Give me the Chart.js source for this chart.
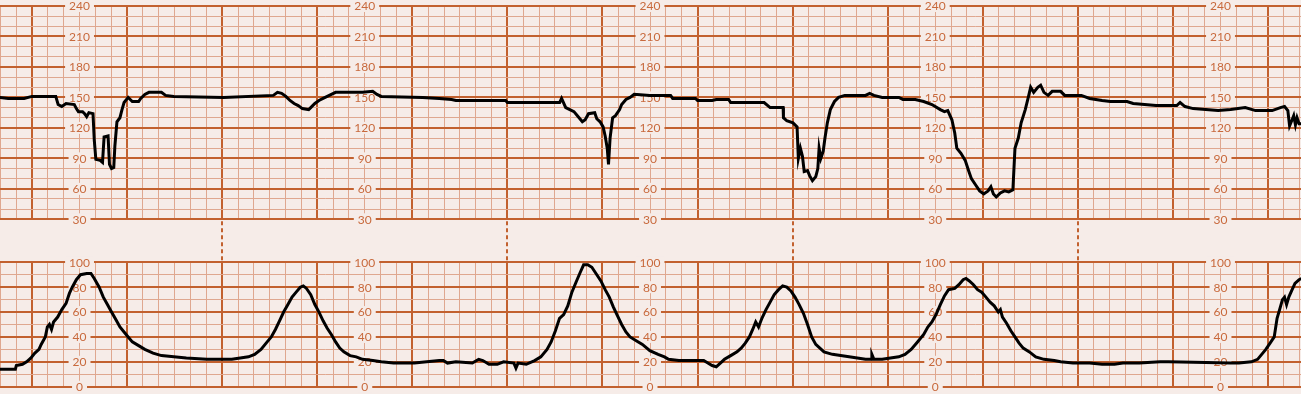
<!DOCTYPE html>
<html>
<head>
<meta charset="utf-8">
<script src="https://cdn.jsdelivr.net/npm/chart.js@4.4.1/dist/chart.umd.min.js"></script>
<style>
  body { margin: 0; background: #f6ece8; }
  #wrap { position: relative; width: 1301px; height: 394px; overflow: hidden; }
  #wrap canvas { position: absolute; left: 0; }
</style>
</head>
<body>
<div id="wrap">
  <canvas id="fhrChart" width="1301" height="262" style="top:0"></canvas>
  <canvas id="tocoChart" width="1301" height="154" style="top:240px"></canvas>
</div>
<script>
// time in seconds, 0 = first heavy grid line
var fhrTimes = [-20.4,-15,-5,0,15,16.5,18.8,21.5,26.7,28,29.3,31.9,33.2,34.5,35.9,38.5,39.3,40.3,43,44.5,45.5,48,48.9,50.2,51.6,52.3,53.6,55.5,56.8,58.1,60.7,62,63.3,67.3,68.6,71.2,73.8,81.7,84.3,89.5,120.9,152.3,154.9,157.5,160.2,162.8,165.4,168,170.6,174.6,175.9,178.5,181.1,183.7,186.3,188.9,191.6,208.6,215,217.7,220.4,246.5,257,264.8,267.5,298.9,300,333,334.2,336.8,339.4,342,344.7,347.3,349.1,351.2,355.1,356.4,358.5,360.4,361.7,363,363.8,364.8,366.4,368.2,370.8,372.1,374.8,377.4,380,389.9,403,404.3,418.7,420,429.2,431.8,439.6,440.9,462,465.8,474,474.2,476.3,480.2,482.8,483.6,484.9,486.2,487.3,489.4,490.7,492.5,494.6,495.9,496.7,497.8,499.3,500.4,501.9,503.8,506.4,509,512.9,526,528.6,531.3,536.5,547,549.6,557.4,562.7,567.9,573.2,575.8,577.9,580.5,582.3,583.6,586.2,588.9,591,592.8,595.4,598,600.6,603.3,605.1,606.7,608.5,611.1,613.7,616.4,619,620.3,622.4,624.2,626.8,628.7,630.2,632.1,634.7,636.5,638.6,641.2,643.8,649.1,651.7,662.2,667.4,675.3,680.5,691,694.9,709.3,722.4,724.5,727.6,732.8,740.7,748.5,756.4,765.6,772.1,782.6,787.8,790.4,792.5,793.6,795.2,796.2,797.3,798.3,799.6,801];
var fhrValues = [150,149,149,151,151,143,141,144,143,139,136,136,134,131,135,134,108,89,88,86,111,112,84,80,81,102,126,130,138,145,150,148,146,146,149,153,155,155,152,151,150,152,155,154,151,147,144,142,139,138,140,144,147,149,151,153,155,155,156,153,151,150,149,148,147,147,145,145,149,140,138,136,131,126,128,134,135,129,126,121,112,100,84,110,130,132,138,143,148,150,153,152,152,149,149,147,147,148,148,145,145,140,140,130,127,125,121,90,100,92,77,78,73,68,72,80,100,90,97,110,125,138,146,150,152,152,154,152,150,150,148,148,146,143,138,136,137,128,115,100,95,88,78,70,64,58,55,58,62,55,52,56,58,57,59,100,110,125,138,150,160,155,160,162,155,152,156,156,152,152,149,147,146,146,144,142,142,145,141,139,138,137,138,140,137,137,140,141,137,122,128,132,123,130,124,124];

var tocoTimes = [-20.4,-10.5,-9.9,-6,-3.4,-0.8,1.8,4.4,5.8,8.4,9.7,11,12.3,13.6,16.2,18.8,21.5,23.6,25.4,28,30.6,34.5,37.2,39.3,42.4,45,47.6,50.2,52.9,55.5,58.1,60.7,63.3,67.3,71.2,76.4,81.7,89.5,97.4,110.4,126.1,131.4,136.6,140.5,144.5,148.4,151,153.6,156.2,158.8,161.5,164.1,166.7,169.3,171.2,173.2,175.9,178.5,181.1,183.7,186.3,188.9,191.6,194.2,196.8,200.7,204.6,208.6,215.1,220.4,228.2,241.3,249.1,257,259.6,262.2,267.5,277.9,281.9,284.5,288.4,293.6,297.6,304.1,305.4,306.7,311.9,317.2,321.1,325,327.6,330.3,332.9,335.5,338.1,340.7,343.3,346,348.1,350.7,353.3,355.9,359,361.7,364.3,366.9,369.5,372.1,374.8,377.4,381.3,385.2,389.9,395.1,399.1,401.7,408.2,418.7,423.9,426.5,429.2,431.8,434.4,437,440.9,444.9,447.5,450.1,452.7,454.8,456.7,458.5,460.6,463.2,465.8,468.4,471.1,473.7,476.3,478.9,481.5,484.1,486.8,489.4,492,494.6,497.2,499.8,505.1,510.3,515.6,520.8,526,529.5,530,531.3,536.5,541.7,547,550.9,554.8,558.8,562.7,565.3,567.9,570.5,573.2,575.8,578.4,582.3,584.9,587.6,589.4,591.5,594.1,596.7,599.3,602,604.6,607.2,609.8,611.1,612.4,615,617.7,620.3,622.9,625.5,629.4,633.4,638.6,645.1,649.1,656.9,667.4,675.3,683.1,688.4,698.8,711.9,717.1,756.4,761.6,769.5,773.4,776,778.6,781.3,783.9,785.7,787.3,789.1,790.4,791.7,793.1,795.2,797,799.6,801];
var tocoValues = [14,14,17,18,20,23,27,30,34,40,48,50,46,52,56,62,67,75,80,86,90,91,91,87,80,72,66,60,54,48,44,40,36,33,30,27,25,24,23,22,22,23,24,26,30,36,40,46,53,60,66,72,76,80,81,79,74,66,60,53,47,42,36,31,28,25,24,22,21,20,19,19,20,21,21,19,20,19,22,21,18,18,20,19,15,19,18,21,24,30,36,45,55,58,65,76,84,92,98,98,96,91,85,78,72,64,57,50,44,40,37,34,29,26,24,22,21,21,21,19,17,16,19,22,25,28,31,35,40,46,52,48,55,62,68,74,78,81,80,77,72,66,59,50,40,34,31,28,26,25,24,23,22,22,26,22,22,23,24,26,30,36,42,48,52,58,66,73,78,79,82,86,87,85,82,78,76,72,68,65,60,62,56,51,45,40,35,31,28,24,22,21,20,19,19,18,18,19,19,20,20,19,19,20,22,26,30,35,40,55,62,70,72,66,72,78,83,86,87];

var fhrTicks = [30, 60, 90, 120, 150, 180, 210, 240];
var tocoTicks = [0, 20, 40, 60, 80, 100];
var labelTimes = [30, 210, 390, 570, 750];
var markerTimes = [120, 300, 480, 660];

var BG = '#f6ece8';
var HEAVY = '#c2612f';
var LIGHT = '#dfa78f';
var LABEL = '#c8693c';

var axisLabels = {
  id: 'axisLabels',
  beforeDatasetsDraw: function(chart, args, opts) {
    var ctx = chart.ctx, x = chart.scales.x, y = chart.scales.y;
    ctx.save();
    ctx.font = '12px Lato';
    ctx.textAlign = 'center';
    ctx.textBaseline = 'middle';
    opts.columns.forEach(function(t) {
      var px = x.getPixelForValue(t);
      opts.values.forEach(function(v) {
        var py = y.getPixelForValue(v);
        var w = ctx.measureText(String(v)).width + 8;
        ctx.fillStyle = BG;
        ctx.fillRect(px - w / 2, py - 6, w, 12);
        ctx.fillStyle = LABEL;
        ctx.fillText(String(v), px, py + 0.5);
      });
    });
    ctx.restore();
  }
};

var markers = {
  id: 'markers',
  afterDraw: function(chart, args, opts) {
    if (!opts.times) return;
    var ctx = chart.ctx, x = chart.scales.x;
    ctx.save();
    ctx.strokeStyle = HEAVY;
    ctx.lineWidth = 2;
    ctx.setLineDash([4, 3]);
    opts.times.forEach(function(t) {
      var px = Math.round(x.getPixelForValue(t));
      ctx.beginPath();
      ctx.moveTo(px, chart.chartArea.bottom + 2);
      ctx.lineTo(px, chart.height);
      ctx.stroke();
    });
    ctx.restore();
  }
};

function makeChart(id, times, values, ymin, ymax, heavyStep, padding, ticks, marks) {
  var ctx = document.getElementById(id).getContext('2d');
  return new Chart(ctx, {
    type: 'line',
    data: {
      datasets: [{
        data: times.map(function(t, i) { return {x: t, y: values[i]}; }),
        borderColor: '#000',
        borderWidth: 3,
        pointRadius: 0,
        tension: 0,
        fill: false
      }]
    },
    options: {
      responsive: false,
      animation: false,
      layout: { padding: padding, autoPadding: false },
      plugins: {
        legend: { display: false },
        tooltip: { enabled: false },
        axisLabels: { values: ticks, columns: labelTimes },
        markers: { times: marks }
      },
      scales: {
        x: {
          type: 'linear',
          min: -20.19,
          max: 800.8,
          afterFit: function(s) { s.height = 0; },
          border: { display: false },
          ticks: { display: false, stepSize: 10, includeBounds: false, autoSkip: false },
          grid: {
            drawTicks: false,
            color: function(c) { return c.tick && c.tick.value % 60 === 0 ? HEAVY : LIGHT; },
            lineWidth: function(c) { return c.tick && c.tick.value % 60 === 0 ? 2 : 1; }
          }
        },
        y: {
          min: ymin,
          max: ymax,
          afterFit: function(s) { s.width = 0; },
          border: { display: false },
          ticks: { display: false, stepSize: 10, autoSkip: false },
          grid: {
            drawTicks: false,
            color: function(c) { return c.tick && c.tick.value % heavyStep === 0 ? HEAVY : LIGHT; },
            lineWidth: function(c) { return c.tick && c.tick.value % heavyStep === 0 ? 2 : 1; }
          }
        }
      }
    },
    plugins: [axisLabels, markers]
  });
}

var fhrChart = makeChart('fhrChart', fhrTimes, fhrValues, 30, 240, 30,
  {top: 6, bottom: 42.7, left: 0, right: 0}, fhrTicks, markerTimes);
var tocoChart = makeChart('tocoChart', tocoTimes, tocoValues, 0, 100, 20,
  {top: 22.3, bottom: 7.3, left: 0, right: 0}, tocoTicks, null);
</script>
</body>
</html>
